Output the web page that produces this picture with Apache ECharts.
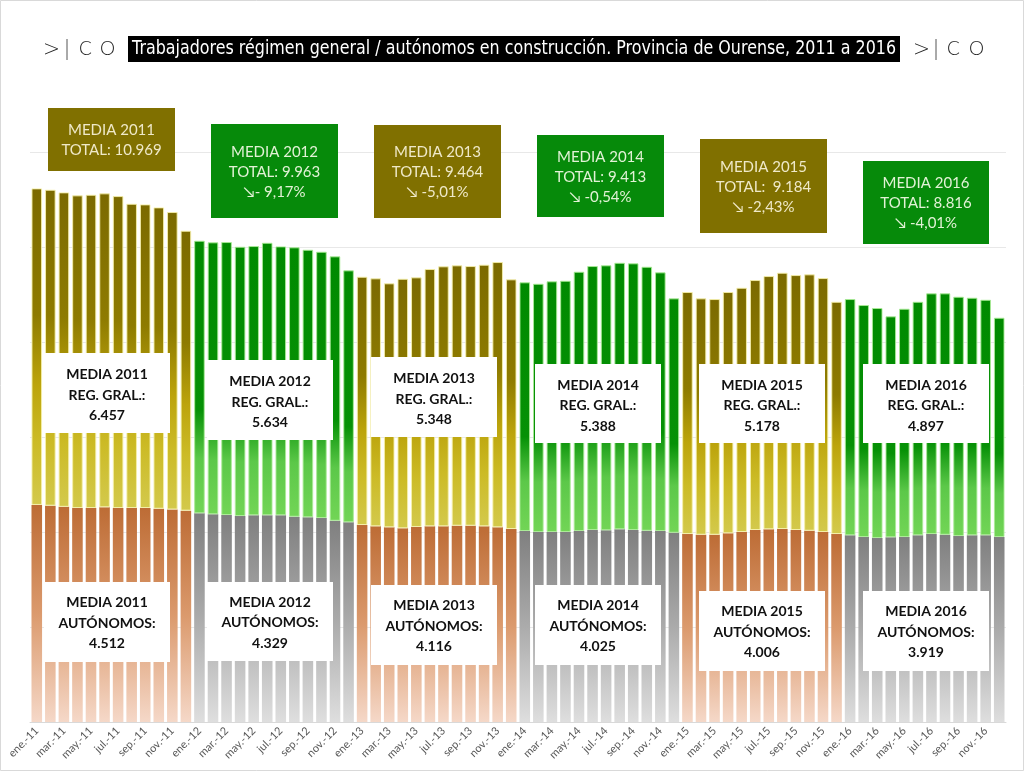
<!DOCTYPE html>
<html><head><meta charset="utf-8">
<script src="https://cdn.jsdelivr.net/npm/echarts@6/dist/echarts.min.js"></script>
<style>html,body{margin:0;padding:0;background:#fff}#c{width:1024px;height:771px}</style>
</head><body><div id="c"></div>
<script>
const monthNames = ['ene.','feb.','mar.','abr.','may.','jun.','jul.','ago.','sep.','oct.','nov.','dic.'];
const yearSuffix = ['11','12','13','14','15','16'];
const years = ['2011','2012','2013','2014','2015','2016'];

const autonomos = [
  4570,4555,4530,4505,4505,4520,4505,4505,4505,4490,4475,4450,
  4393,4372,4357,4336,4351,4351,4351,4322,4309,4294,4237,4204,
  4147,4119,4098,4077,4105,4119,4119,4133,4133,4119,4098,4063,
  4021,4000,4000,4000,4021,4042,4035,4056,4042,4027,4021,3985,
  3957,3943,3943,3972,4000,4042,4056,4063,4042,4027,4000,3957,
  3930,3894,3873,3888,3894,3930,3957,3943,3915,3930,3930,3894
];
const regGeneral = [
  6664,6650,6620,6582,6595,6609,6567,6405,6392,6344,6261,5892,
  5739,5726,5747,5669,5669,5738,5662,5671,5633,5606,5566,5304,
  5227,5221,5137,5254,5256,5417,5474,5481,5466,5508,5585,5256,
  5235,5226,5277,5289,5458,5557,5579,5612,5614,5557,5445,4934,
  5095,4976,4961,5080,5142,5262,5332,5395,5367,5397,5346,4890,
  4974,4884,4842,4652,4806,4917,5067,5081,5038,5002,4959,4617
];
const yMin = 0, yMax = 12000, yInterval = 2000;

const mediaTotal = ['10.969','9.963','9.464','9.413',' 9.184','8.816'];
const variation = ['', '\u2198- 9,17%', '\u2198 -5,01%', '\u2198 -0,54%', '\u2198 -2,43%', '\u2198 -4,01%'];
const mediaReg = ['6.457','5.634','5.348','5.388','5.178','4.897'];
const mediaAut = ['4.512','4.329','4.116','4.025','4.006','3.919'];
const titleText = 'Trabajadores régimen general / autónomos en construcción. Provincia de Ourense, 2011 a 2016';

/* layout (pixels) */
const topBoxes = [[48,108,127,63],[211,124,127,94],[374,125,127,93],[537,135,127,82],[700,139,127,94],[863,161,126,83]];
const regBoxes = [[44,353,126,80],[207,360,126,80],[371,357,126,80],[535,364,126,79],[699,364,126,79],[863,364,126,79]];
const autBoxes = [[44,582,126,80],[207,582,126,79],[371,585,126,80],[535,585,126,80],[699,591,126,80],[863,591,126,80]];

const categories = [];
yearSuffix.forEach(y => monthNames.forEach(m => categories.push(m + '-' + y)));

function grad(stops){ return {type:'linear',x:0,y:0,x2:0,y2:1,colorStops:stops.map(s=>({offset:s[0],color:s[1]}))}; }
const olive = grad([[0,'#7b6a00'],[0.4,'#8e7b00'],[0.62,'#bca40c'],[0.8,'#ccbb26'],[1,'#d3c94c']]);
const green = grad([[0,'#008a00'],[0.62,'#069106'],[0.8,'#5cc849'],[1,'#72d556']]);
const orange = grad([[0,'#bd6c35'],[0.5,'#db9a6d'],[1,'#f5d8c8']]);
const gray = grad([[0,'#7f7f7f'],[0.5,'#ababab'],[1,'#dedede']]);

const autData = autonomos.map((v,i)=>{
  const odd = Math.floor(i/12)%2===0;
  return {value:v,itemStyle:{color: odd?orange:gray}};
});
const regData = regGeneral.map((v,i)=>{
  const odd = Math.floor(i/12)%2===0;
  return {value:v,itemStyle:{color: odd?olive:green, borderColor: odd?'rgba(245,240,170,0.9)':'rgba(170,235,150,0.9)', borderWidth:1}};
});

const titleFont = '19px "DejaVu Sans", sans-serif';
const mctx = document.createElement('canvas').getContext('2d');
mctx.font = titleFont;
const titleScale = 764 / mctx.measureText(titleText).width;

const graphics = [];
graphics.push({type:'rect',shape:{x:0.5,y:0.5,width:1023,height:770},style:{fill:'none',stroke:'#d9d9d9',lineWidth:1},z:1});
// title
graphics.push({type:'rect',shape:{x:128,y:36,width:772,height:26},style:{fill:'#000'},z:10});
graphics.push({type:'text',x:514,y:49,scaleX:titleScale,style:{text:titleText,x:0,y:0,textAlign:'center',textVerticalAlign:'middle',fill:'#fff',font:titleFont},z:11});
// logos
[[44,67,79,100],[914,936,947,969]].forEach(p=>{
  graphics.push({type:'text',x:p[0]+7,y:49,rotation:-Math.PI/2,style:{text:'\u039B',x:0,y:0,textAlign:'center',textVerticalAlign:'middle',fill:'#222',font:'300 18px Lato, sans-serif'},z:11});
  graphics.push({type:'line',shape:{x1:p[1],y1:39,x2:p[1],y2:60},style:{stroke:'#555',lineWidth:1},z:11});
  graphics.push({type:'text',style:{text:'C',x:p[2],y:49,textVerticalAlign:'middle',fill:'#222',font:'300 19px Lato, sans-serif'},z:11});
  graphics.push({type:'text',style:{text:'O',x:p[3],y:49,textVerticalAlign:'middle',fill:'#222',font:'300 19px Lato, sans-serif'},z:11});
});
years.forEach((yr,k)=>{
  const odd = k%2===0;
  const tb = topBoxes[k];
  graphics.push({type:'rect',shape:{x:tb[0],y:tb[1],width:tb[2],height:tb[3]},style:{fill: odd?'#807000':'#068a0a'},z:20});
  let t = 'MEDIA ' + yr + '\nTOTAL: ' + mediaTotal[k] + (variation[k] ? '\n' + variation[k] : '');
  graphics.push({type:'text',style:{text:t,x:tb[0]+tb[2]/2,y:tb[1]+tb[3]/2+1,textAlign:'center',textVerticalAlign:'middle',lineHeight:20,fill: odd?'#efe9c8':'#e2f2d6',font:'15px Lato, "DejaVu Sans", sans-serif'},z:21});
  const rb = regBoxes[k];
  graphics.push({type:'rect',shape:{x:rb[0],y:rb[1],width:rb[2],height:rb[3]},style:{fill:'#fff'},z:20});
  graphics.push({type:'text',style:{text:'MEDIA ' + yr + '\nREG. GRAL.:\n' + mediaReg[k],x:rb[0]+rb[2]/2,y:rb[1]+rb[3]/2+2,textAlign:'center',textVerticalAlign:'middle',lineHeight:20.5,fill:'#111',font:'bold 14px Lato, sans-serif'},z:21});
  const ab = autBoxes[k];
  graphics.push({type:'rect',shape:{x:ab[0],y:ab[1],width:ab[2],height:ab[3]},style:{fill:'#fff'},z:20});
  graphics.push({type:'text',style:{text:'MEDIA ' + yr + '\nAUTÓNOMOS:\n' + mediaAut[k],x:ab[0]+ab[2]/2,y:ab[1]+ab[3]/2+1,textAlign:'center',textVerticalAlign:'middle',lineHeight:20.5,fill:'#111',font:'bold 14px Lato, sans-serif'},z:21});
});

const chart = echarts.init(document.getElementById('c'));
chart.setOption({
  animation:false,
  backgroundColor:'#fff',
  grid:{left:30,right:18,top:152,bottom:49,containLabel:false},
  xAxis:{type:'category',data:categories,
    axisLine:{lineStyle:{color:'#d9d9d9'}},axisTick:{show:false},
    axisLabel:{interval:1,rotate:45,color:'#595959',fontSize:11,fontFamily:'Lato, sans-serif',margin:7}},
  yAxis:{type:'value',min:yMin,max:yMax,interval:yInterval,axisLabel:{show:false},axisLine:{show:false},axisTick:{show:false},
    splitLine:{lineStyle:{color:'#e8e8e8'}}},
  series:[
    {type:'bar',name:'Autónomos',stack:'t',data:autData,barCategoryGap:'22%'},
    {type:'bar',name:'Régimen general',stack:'t',data:regData,barCategoryGap:'22%'}
  ],
  graphic:graphics
});
</script></body></html>
